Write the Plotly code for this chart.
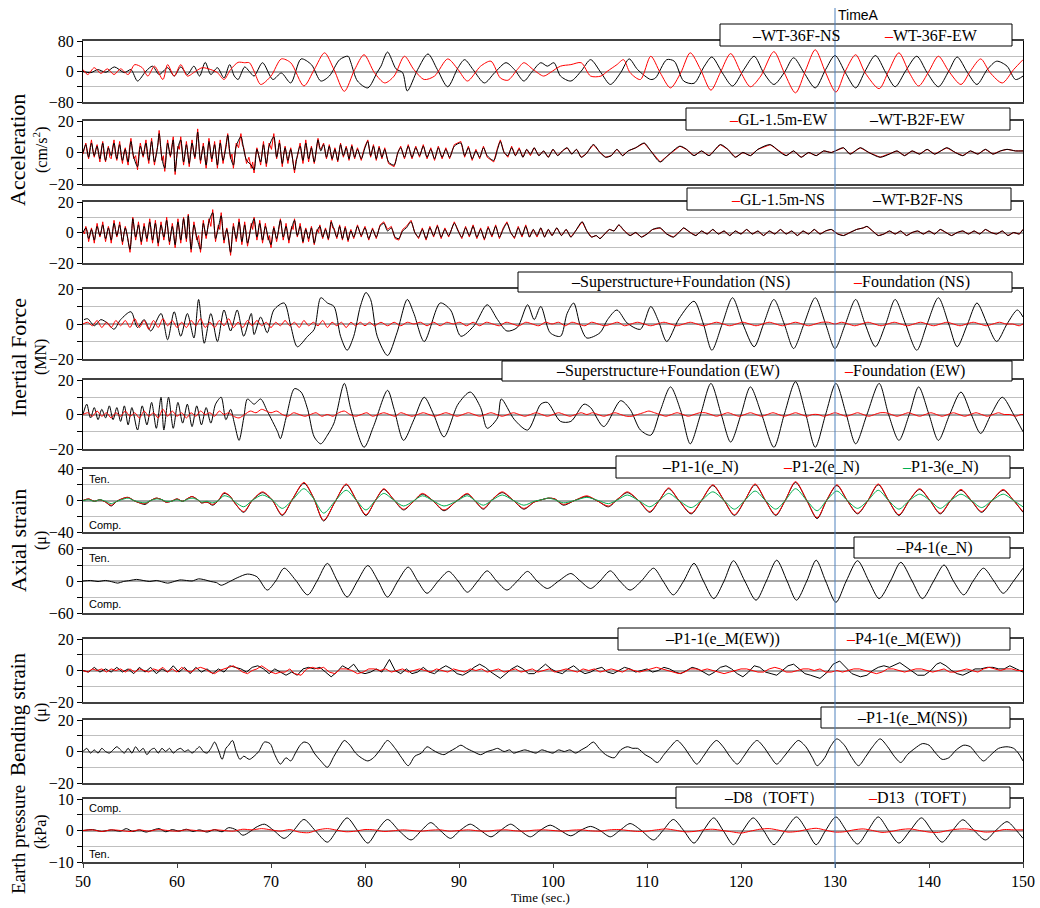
import plotly.graph_objects as go

# ---------------- data: (time [s], value) pairs ----------------
TIME_A = 130.0
X_TICKS = [50, 60, 70, 80, 90, 100, 110, 120, 130, 140, 150]

WT36F_NS = [(50.0,0),(50.85,-3),(51.56,5),(52.45,-2),(53.33,12),(54.4,-3),(55.1,5),(55.8,-25),(56.7,1),(57.4,14),(58.1,-8),(59.0,10),(59.7,-12),(60.4,12),(61.1,-8),(61.8,14),(62.4,-12),(63.0,24),(63.6,-8),(64.3,10),(65.0,-17),(65.6,18),(66.1,-12),(66.5,-21),(67.2,12),(67.7,0),(68.2,-12),(69.1,23),(70.2,-21),(71.1,-4),(72.1,-30),(73.2,33),(74.3,18),(75.3,-25),(76.2,-12),(77.3,31),(78.2,40),(78.5,23),(79.2,-25),(80.3,-43),(81.3,-2),(81.7,14),(82.4,51),(83.3,7),(84.0,-3),(84.5,-51),(85.6,5),(86.7,46),(87.7,5),(88.8,-40),(89.9,10),(90.6,31),(91.5,5),(92.7,-30),(93.8,-3),(95.0,23),(95.9,5),(96.9,-25),(97.7,-3),(98.7,23),(99.4,14),(100.1,23),(100.8,-12),(101.9,-25),(103.0,1),(104.0,31),(105.1,-3),(106.1,-34),(107.2,-3),(108.1,33),(109.0,5),(110.4,-21),(110.9,-17),(112.1,31),(112.9,27),(113.9,-25),(115.0,-31),(116.1,14),(116.9,38),(118.0,-3),(119.1,-38),(120.3,5),(121.4,40),(122.4,-3),(123.5,-34),(124.6,-3),(125.6,36),(126.7,-3),(127.9,-43),(129.0,5),(130.0,42),(131.1,-3),(132.2,-43),(133.2,1),(134.3,42),(135.4,-3),(136.4,-40),(137.5,1),(138.7,40),(139.8,-3),(141.0,-40),(142.1,1),(143.0,38),(144.1,-3),(145.1,-34),(146.2,5),(147.2,27),(148.3,14),(149.2,-21),(150.0,-12)]

WT36F_EW = [(50.0,5),(50.5,-8),(51.2,10),(51.9,-5),(52.6,7),(53.3,-8),(54.0,7),(54.8,-8),(55.5,18),(56.3,10),(56.9,-12),(57.6,14),(58.5,-21),(59.0,18),(59.7,-12),(60.4,18),(61.1,-12),(62.0,1),(62.7,10),(63.6,5),(64.3,-3),(65.0,-21),(65.7,5),(66.5,24),(67.2,23),(67.7,23),(68.2,1),(68.9,-34),(70.0,-12),(71.1,33),(72.1,23),(73.5,-38),(74.6,5),(75.7,49),(76.7,5),(77.8,-52),(78.9,5),(79.9,44),(81.0,-3),(82.1,-30),(83.1,-12),(84.2,40),(85.2,5),(86.3,-21),(87.4,-12),(88.8,33),(89.9,5),(90.9,-25),(92.3,14),(93.4,27),(94.4,-17),(95.2,-23),(96.2,5),(96.9,23),(97.9,5),(99.0,-12),(99.7,-3),(100.8,14),(101.9,18),(103.0,23),(104.0,-12),(105.1,-12),(105.8,1),(106.8,18),(107.5,31),(108.2,-3),(109.3,-21),(110.4,40),(111.4,-3),(112.5,-43),(113.6,-3),(114.6,49),(115.7,5),(116.8,-49),(117.8,-3),(118.9,47),(120.0,-3),(121.0,-40),(122.1,-12),(123.5,52),(124.6,-3),(125.8,-56),(126.9,5),(127.9,57),(129.0,-3),(130.1,-54),(131.1,1),(132.2,44),(133.2,-3),(134.7,-45),(135.7,1),(136.8,49),(137.9,-3),(138.9,-38),(140.0,1),(141.0,40),(142.1,1),(143.4,-34),(144.4,1),(145.5,33),(146.5,-3),(147.8,-30),(149.0,5),(150.0,31)]

B2F_EW = [(50.0,0),(50.3,5),(50.6,-3),(50.9,6),(51.2,-2),(51.5,4),(51.8,-4),(52.1,6),(52.4,-5),(52.7,3),(53.0,-2),(53.3,6),(53.6,-4),(53.9,5),(54.2,-5),(54.5,2),(54.8,-6),(55.1,7),(55.4,-3),(55.8,-9),(56.1,4),(56.4,-2),(56.7,6),(57.0,-5),(57.3,7),(57.6,-6),(57.9,2),(58.1,12),(58.4,-4),(58.7,-10),(59.0,6),(59.3,-2),(59.6,8),(59.8,-12),(60.1,3),(60.4,8),(60.7,-6),(61.0,5),(61.3,-7),(61.6,6),(61.9,-3),(62.2,13),(62.5,-5),(62.8,4),(63.1,-8),(63.4,7),(63.7,-4),(64.0,5),(64.3,-8),(64.6,6),(64.9,-5),(65.2,3),(65.4,11),(65.7,-3),(66.0,-8),(66.3,4),(66.8,10),(67.1,2),(67.4,-5),(67.9,-8),(68.2,-11),(68.5,2),(68.9,-6),(69.2,5),(69.5,-7),(69.8,4),(70.3,10),(70.6,-3),(70.9,6),(71.2,-7),(71.5,3),(71.8,-5),(72.1,2),(72.5,-11),(72.8,-2),(73.1,4),(73.4,-5),(73.7,6),(74.0,-4),(74.3,3),(74.6,-6),(75.0,8),(75.3,1),(75.6,5),(75.9,-3),(76.2,4),(76.5,-4),(76.8,2),(77.1,-5),(77.4,5),(77.7,-2),(78.0,3),(78.3,-4),(78.6,4),(78.9,-3),(79.2,2),(79.6,-4),(80.0,3),(80.3,7),(80.6,-2),(80.9,4),(81.2,-4),(81.5,3),(81.8,-3),(82.1,2),(82.5,-6),(83.1,-8),(83.5,0),(83.8,3),(84.2,-3),(84.6,4),(85.0,-3),(85.4,3),(85.8,-2),(86.2,4),(86.6,-3),(87.0,2),(87.4,-4),(87.8,3),(88.2,-3),(88.6,2),(89.0,-3),(89.5,4),(90.2,6),(90.6,-2),(91.0,3),(91.4,-4),(91.8,1),(92.2,-3),(92.6,3),(93.0,-2),(93.7,-5),(94.1,2),(94.4,7),(94.8,0),(95.2,-2),(95.6,3),(96.0,-2),(96.4,2),(96.8,-3),(97.2,2),(97.6,-1),(98.0,3),(98.5,-2),(99.0,1),(99.5,-3),(100.0,2),(100.5,-2),(101.0,1),(101.5,3),(102.0,-1),(102.5,2),(103.0,-3),(103.5,-1),(104.3,5),(105.0,0),(105.6,-3),(106.2,-2),(106.8,2),(107.4,-2),(108.0,1),(108.8,3),(109.7,6),(110.4,1),(111.4,-6),(112.2,-2),(113.5,4),(114.2,2),(115.0,-2),(115.8,1),(116.6,-2),(117.8,5),(118.6,2),(119.4,-3),(120.2,0),(121.0,-2),(121.8,2),(123.1,5),(124.0,1),(124.8,-2),(125.6,1),(126.4,-3),(127.2,0),(128.0,-2),(128.8,1),(129.6,0),(130.9,3),(131.6,-1),(132.7,3),(133.6,0),(134.8,-3),(135.8,-1),(136.6,1),(137.4,-2),(138.2,1),(139.0,-1),(139.8,2),(140.6,-1),(141.9,3),(142.8,0),(143.6,-2),(144.4,1),(145.2,-1),(146.0,2),(146.8,-1),(147.6,1),(148.3,2),(149.2,1),(150.0,1)]

GL_EW = [(50.0,-1),(50.15,3),(50.3,6),(50.45,0),(50.6,-4),(50.75,3),(50.9,8),(51.05,1),(51.2,-3),(51.35,2),(51.5,5),(51.65,-1),(51.8,-6),(51.95,2),(52.1,7),(52.25,-2),(52.4,-6),(52.55,0),(52.7,4),(52.85,-3),(53.0,-4),(53.15,3),(53.3,8),(53.45,-1),(53.6,-5),(53.75,2),(53.9,7),(54.05,-2),(54.2,-7),(54.35,0),(54.5,3),(54.65,-4),(54.8,-8),(54.95,3),(55.1,9),(55.25,1),(55.4,-4),(55.6,-2),(55.8,-11),(55.95,0),(56.1,6),(56.25,1),(56.4,-3),(56.55,3),(56.7,8),(56.85,-2),(57.0,-7),(57.15,2),(57.3,9),(57.45,0),(57.6,-8),(57.75,-2),(57.9,3),(58.0,6),(58.1,14),(58.25,3),(58.4,-5),(58.55,-2),(58.7,-12),(58.85,0),(59.0,8),(59.15,2),(59.3,-3),(59.45,4),(59.6,10),(59.7,0),(59.8,-14),(59.95,-4),(60.1,4),(60.25,2),(60.4,10),(60.55,0),(60.7,-8),(60.85,-1),(61.0,7),(61.15,0),(61.3,-9),(61.45,0),(61.6,8),(61.75,1),(61.9,-4),(62.05,4),(62.2,15),(62.35,3),(62.5,-7),(62.65,0),(62.8,6),(62.95,-2),(63.1,-10),(63.25,0),(63.4,9),(63.55,1),(63.7,-6),(63.85,0),(64.0,7),(64.15,-1),(64.3,-10),(64.45,0),(64.6,8),(64.75,0),(64.9,-7),(65.05,-1),(65.2,4),(65.3,7),(65.4,12),(65.55,2),(65.7,-4),(65.85,-1),(66.0,-10),(66.15,-2),(66.3,6),(66.55,3),(66.8,12),(66.95,5),(67.1,3),(67.25,-2),(67.4,-7),(67.65,-3),(67.9,-10),(68.05,-6),(68.2,-13),(68.35,-3),(68.5,3),(68.7,-2),(68.9,-8),(69.05,0),(69.2,7),(69.35,-1),(69.5,-9),(69.65,-2),(69.8,6),(70.05,2),(70.3,12),(70.45,3),(70.6,-4),(70.75,1),(70.9,8),(71.05,-1),(71.2,-9),(71.35,-1),(71.5,4),(71.65,-2),(71.8,-7),(71.95,-1),(72.1,3),(72.3,-4),(72.5,-13),(72.65,-5),(72.8,-3),(72.95,2),(73.1,6),(73.25,-1),(73.4,-7),(73.55,0),(73.7,8),(73.85,1),(74.0,-6),(74.15,-1),(74.3,4),(74.45,-2),(74.6,-7),(74.8,0),(75.0,9),(75.15,3),(75.3,2),(75.45,4),(75.6,6),(75.75,1),(75.9,-4),(76.05,0),(76.2,5),(76.35,0),(76.5,-5),(76.65,-1),(76.8,3),(76.95,-1),(77.1,-6),(77.25,0),(77.4,6),(77.55,1),(77.7,-3),(77.85,0),(78.0,4),(78.15,0),(78.3,-5),(78.45,0),(78.6,5),(78.75,0),(78.9,-4),(79.05,0),(79.2,3),(79.4,-1),(79.6,-5),(79.8,0),(80.0,4),(80.3,8),(80.6,-3),(80.9,5),(81.2,-5),(81.5,4),(81.8,-4),(82.1,3),(82.5,-7),(83.1,-9),(83.5,0),(83.8,4),(84.2,-4),(84.6,5),(85.0,-4),(85.4,4),(85.8,-3),(86.2,5),(86.6,-4),(87.0,3),(87.4,-5),(87.8,4),(88.2,-4),(88.6,3),(89.0,-4),(89.5,5),(90.2,7),(90.6,-3),(91.0,4),(91.4,-5),(91.8,2),(92.2,-4),(92.6,4),(93.0,-3),(93.7,-6),(94.1,3),(94.4,8),(94.8,0),(95.2,-3),(95.6,4),(96.0,-2),(96.4,3),(96.8,-3),(97.2,2),(97.6,-2),(98.0,3),(98.5,-2),(99.0,1),(99.5,-3),(100.0,2),(100.5,-2),(101.0,1),(101.5,3),(102.0,-1),(102.5,2),(103.0,-3),(103.5,-1),(104.3,5),(105.0,0),(105.6,-3),(106.2,-2),(106.8,2),(107.4,-2),(108.0,1),(108.8,3),(109.7,6),(110.4,1),(111.4,-6),(112.2,-2),(113.5,4),(114.2,2),(115.0,-2),(115.8,1),(116.6,-2),(117.8,5),(118.6,2),(119.4,-3),(120.2,0),(121.0,-2),(121.8,2),(123.1,5),(124.0,1),(124.8,-2),(125.6,1),(126.4,-3),(127.2,0),(128.0,-2),(128.8,1),(129.6,0),(130.9,3),(131.6,-1),(132.7,3),(133.6,0),(134.8,-3),(135.8,-1),(136.6,1),(137.4,-2),(138.2,1),(139.0,-1),(139.8,2),(140.6,-1),(141.9,3),(142.8,0),(143.6,-2),(144.4,1),(145.2,-1),(146.0,2),(146.8,-1),(147.6,1),(148.3,2),(149.2,1),(150.0,1)]

B2F_NS = [(50.0,0),(50.3,3),(50.6,-4),(50.9,2),(51.2,-5),(51.5,4),(51.8,-2),(52.1,5),(52.4,-4),(52.7,3),(53.0,-5),(53.3,6),(53.6,-2),(53.9,5),(54.2,-6),(54.5,3),(55.0,-11),(55.3,9),(55.6,-3),(55.9,5),(56.2,-6),(56.5,4),(56.8,-4),(57.1,7),(57.4,-5),(57.7,6),(58.0,-7),(58.3,5),(58.6,-3),(58.9,8),(59.2,-6),(59.5,4),(59.8,-8),(60.1,7),(60.4,-5),(60.7,9),(61.0,-4),(61.2,11),(61.5,-11),(61.8,5),(62.1,-3),(62.5,-11),(62.8,6),(63.1,-2),(63.4,7),(63.8,13),(64.1,-4),(64.4,3),(64.7,11),(65.0,-5),(65.3,2),(65.7,-13),(66.0,4),(66.3,-4),(66.6,7),(66.9,-6),(67.2,5),(67.5,-7),(67.9,4),(68.2,9),(68.5,-3),(68.8,6),(69.1,-5),(69.4,4),(69.7,-3),(70.0,-8),(70.3,3),(70.6,-4),(71.0,8),(71.3,-3),(71.6,4),(71.9,-5),(72.2,3),(72.5,8),(72.8,-2),(73.1,4),(73.4,-6),(73.7,2),(74.0,-4),(74.3,3),(74.6,-7),(74.9,1),(75.2,4),(75.5,-3),(75.8,2),(76.1,-4),(76.4,7),(76.7,2),(77.0,-3),(77.3,4),(77.6,-4),(77.9,3),(78.2,-5),(78.5,1),(78.8,-3),(79.2,4),(79.6,-2),(80.0,3),(80.4,-4),(80.8,2),(81.2,-3),(81.6,4),(82.0,6),(82.4,1),(82.8,3),(83.2,-3),(83.6,-4),(84.0,1),(84.4,3),(84.9,7),(85.3,0),(85.7,-3),(86.1,2),(86.5,-4),(86.9,3),(87.3,-2),(87.7,4),(88.1,-3),(88.5,2),(88.9,-2),(89.5,6),(89.9,1),(90.3,-3),(90.7,3),(91.1,-2),(91.5,4),(91.9,-3),(92.3,2),(92.7,-4),(93.1,3),(93.5,-2),(93.9,4),(94.3,-3),(94.7,2),(95.1,6),(95.5,0),(95.9,-3),(96.3,3),(96.7,-2),(97.1,4),(97.5,-3),(97.9,2),(98.3,-2),(98.7,3),(99.1,-3),(99.5,2),(99.9,-2),(100.4,3),(100.9,-2),(101.4,2),(101.9,-3),(102.4,1),(103.1,7),(103.6,1),(104.1,-3),(104.6,-2),(105.0,-4),(105.5,-1),(106.0,2),(106.5,1),(107.0,5),(107.6,1),(108.2,-2),(108.8,0),(109.4,-3),(110.0,-1),(110.6,2),(111.4,3),(112.1,-1),(112.8,-3),(113.4,0),(113.9,3),(114.6,0),(115.2,-2),(115.8,1),(116.4,-1),(117.0,2),(117.6,-1),(118.2,1),(118.8,-2),(119.4,1),(120.0,-1),(120.6,2),(121.2,-1),(121.8,1),(122.4,-2),(123.0,1),(123.6,-1),(124.2,2),(124.8,-1),(125.4,1),(126.0,-2),(126.6,1),(127.2,-1),(127.8,2),(128.4,-1),(129.0,1),(129.6,2),(130.3,-1),(130.9,-2),(131.6,0),(132.3,2),(133.0,3),(133.4,4),(134.0,1),(134.6,-2),(135.2,-1),(135.8,1),(136.4,-1),(137.0,1),(137.6,-2),(138.2,0),(138.8,1),(139.4,-1),(140.0,1),(140.6,-1),(141.2,2),(141.8,0),(142.4,-2),(143.0,0),(143.6,1),(144.2,-1),(144.8,1),(145.4,-1),(146.0,2),(146.6,0),(147.2,-1),(147.8,1),(148.4,-2),(149.0,0),(149.6,-1),(150.0,2)]

GL_NS = [(50.0,1),(50.15,-1),(50.3,4),(50.45,1),(50.6,-6),(50.75,-1),(50.9,3),(51.05,-1),(51.2,-7),(51.35,0),(51.5,6),(51.65,1),(51.8,-3),(51.95,1),(52.1,7),(52.25,0),(52.4,-6),(52.55,-1),(52.7,4),(52.85,0),(53.0,-7),(53.15,0),(53.3,8),(53.45,2),(53.6,-3),(53.75,1),(53.9,7),(54.05,0),(54.2,-8),(54.35,-1),(54.5,4),(54.75,-3),(55.0,-13),(55.15,-2),(55.3,10),(55.45,2),(55.6,-5),(55.75,0),(55.9,7),(56.05,0),(56.2,-8),(56.35,-1),(56.5,6),(56.65,0),(56.8,-6),(56.95,1),(57.1,9),(57.25,1),(57.4,-7),(57.55,0),(57.7,8),(57.85,0),(58.0,-9),(58.15,-1),(58.3,7),(58.45,1),(58.6,-5),(58.75,1),(58.9,10),(59.05,1),(59.2,-8),(59.35,-1),(59.5,6),(59.65,0),(59.8,-10),(59.95,-1),(60.1,9),(60.25,1),(60.4,-7),(60.55,1),(60.7,10),(60.85,2),(61.0,-6),(61.1,2),(61.2,12),(61.35,0),(61.5,-13),(61.65,-3),(61.8,7),(61.95,1),(62.1,-5),(62.3,-2),(62.5,-13),(62.65,-2),(62.8,8),(62.95,1),(63.1,-4),(63.25,2),(63.4,9),(63.6,4),(63.8,15),(63.95,4),(64.1,-6),(64.25,0),(64.4,5),(64.55,2),(64.7,13),(64.85,3),(65.0,-7),(65.15,-1),(65.3,3),(65.5,-4),(65.7,-15),(65.85,-4),(66.0,6),(66.15,0),(66.3,-6),(66.45,0),(66.6,9),(66.75,1),(66.9,-8),(67.05,-1),(67.2,7),(67.35,0),(67.5,-9),(67.7,-2),(67.9,6),(68.05,2),(68.2,10),(68.35,2),(68.5,-5),(68.65,0),(68.8,8),(68.95,1),(69.1,-7),(69.25,-1),(69.4,6),(69.55,0),(69.7,-5),(69.85,-2),(70.0,-10),(70.15,-2),(70.3,4),(70.45,-1),(70.6,-6),(70.8,1),(71.0,9),(71.15,2),(71.3,-5),(71.45,0),(71.6,6),(71.75,0),(71.9,-7),(72.05,-1),(72.2,4),(72.35,2),(72.5,9),(72.65,2),(72.8,-3),(72.95,1),(73.1,6),(73.25,0),(73.4,-7),(73.55,-1),(73.7,3),(73.85,-1),(74.0,-6),(74.15,-1),(74.3,4),(74.45,-1),(74.6,-8),(74.75,-2),(74.9,2),(75.05,0),(75.2,5),(75.35,0),(75.5,-4),(75.65,0),(75.8,3),(75.95,-1),(76.1,-5),(76.25,0),(76.4,8),(76.55,3),(76.7,3),(76.85,0),(77.0,-4),(77.15,0),(77.3,5),(77.45,0),(77.6,-5),(77.75,0),(77.9,4),(78.05,-1),(78.2,-6),(78.35,-1),(78.5,2),(78.65,-1),(78.8,-4),(79.0,0),(79.2,5),(79.4,1),(79.6,-3),(79.8,1),(80.0,4),(80.4,-5),(80.8,3),(81.2,-4),(81.6,5),(82.0,7),(82.4,2),(82.8,4),(83.2,-4),(83.6,-5),(84.0,2),(84.4,4),(84.9,8),(85.3,0),(85.7,-4),(86.1,3),(86.5,-5),(86.9,4),(87.3,-3),(87.7,5),(88.1,-4),(88.5,3),(88.9,-3),(89.5,7),(89.9,1),(90.3,-4),(90.7,4),(91.1,-3),(91.5,5),(91.9,-4),(92.3,3),(92.7,-5),(93.1,4),(93.5,-3),(93.9,5),(94.3,-4),(94.7,3),(95.1,7),(95.5,0),(95.9,-4),(96.3,4),(96.7,-3),(97.1,5),(97.5,-3),(97.9,2),(98.3,-3),(98.7,3),(99.1,-3),(99.5,2),(99.9,-2),(100.4,3),(100.9,-2),(101.4,2),(101.9,-3),(102.4,1),(103.1,7),(103.6,1),(104.1,-3),(104.6,-2),(105.0,-4),(105.5,-1),(106.0,2),(106.5,1),(107.0,5),(107.6,1),(108.2,-2),(108.8,0),(109.4,-3),(110.0,-1),(110.6,2),(111.4,3),(112.1,-1),(112.8,-3),(113.4,0),(113.9,3),(114.6,0),(115.2,-2),(115.8,1),(116.4,-1),(117.0,2),(117.6,-1),(118.2,1),(118.8,-2),(119.4,1),(120.0,-1),(120.6,2),(121.2,-1),(121.8,1),(122.4,-2),(123.0,1),(123.6,-1),(124.2,2),(124.8,-1),(125.4,1),(126.0,-2),(126.6,1),(127.2,-1),(127.8,2),(128.4,-1),(129.0,1),(129.6,2),(130.3,-1),(130.9,-2),(131.6,0),(132.3,2),(133.0,3),(133.4,4),(134.0,1),(134.6,-2),(135.2,-1),(135.8,1),(136.4,-1),(137.0,1),(137.6,-2),(138.2,0),(138.8,1),(139.4,-1),(140.0,1),(140.6,-1),(141.2,2),(141.8,0),(142.4,-2),(143.0,0),(143.6,1),(144.2,-1),(144.8,1),(145.4,-1),(146.0,2),(146.6,0),(147.2,-1),(147.8,1),(148.4,-2),(149.0,0),(149.6,-1),(150.0,2)]

SF_NS = [(50.1,2.5),(50.5,3),(51.2,-1),(51.9,2.5),(52.6,0.5),(53.3,-3),(54.0,2.5),(55.1,7),(55.8,-2),(56.5,2.5),(57.2,-4),(58.3,6),(59.0,-9),(59.7,7),(60.4,-7),(61.1,6),(61.8,-8),(62.3,14),(62.9,-11),(63.6,6),(64.3,-10),(65.0,8),(65.7,-4),(66.4,8),(67.1,-7),(67.9,6),(68.2,-6),(68.9,4),(69.6,-5),(70.3,8),(71.4,12),(72.1,-1),(72.8,-13),(73.9,-7),(74.6,-3),(75.3,15),(76.0,12),(76.7,10),(77.4,-7),(78.1,-15),(78.8,-7),(79.5,10),(80.1,18),(80.6,14),(81.3,-7),(82.4,-18),(83.4,-5),(84.5,14),(85.2,6),(86.3,-10),(88.0,12),(89.1,8),(90.2,-7),(91.6,-1),(93.0,11),(94.1,2.5),(95.1,-4),(96.2,-2),(97.3,11),(98.0,2.5),(98.7,10),(99.7,-5),(100.8,-7),(101.5,6),(102.2,12),(102.9,-1),(103.6,-8),(105.0,-5),(105.8,2.5),(106.8,8),(107.9,0.5),(109.3,-3),(110.4,10),(111.2,2),(112.1,-10),(113.4,3),(115.0,13),(116.0,0),(116.9,-15),(118.0,0),(119.1,15),(120.2,0),(121.4,-13),(122.4,0),(123.5,14),(124.6,0),(125.6,-14),(126.7,0),(127.9,15),(129.0,0),(130.0,-14),(131.1,0),(132.2,14),(133.2,0),(134.3,-13),(135.4,0),(136.4,14),(137.5,0),(138.7,-15),(139.8,0),(141.0,15),(142.1,0),(143.0,-13),(144.1,0),(145.1,12),(146.2,0),(147.2,-10),(148.3,0),(149.4,8),(150.0,4)]

F_NS = [(50.0,0),(50.5,1),(51.0,-1),(51.5,2),(52.0,-2),(52.5,1),(53.0,-2),(53.5,2),(54.0,-1),(54.5,2),(55.0,-2),(55.5,3),(56.0,-2),(56.5,2),(57.0,-3),(57.5,2),(58.0,-2),(58.5,3),(59.0,-1),(59.5,2),(60.0,-2),(60.5,1),(61.0,-2),(61.5,2),(62.0,-1),(62.5,3),(63.0,-2),(63.5,1),(64.0,-2),(64.5,2),(65.0,-1),(65.5,3),(66.0,-2),(66.5,1),(67.0,-2),(67.5,2),(68.0,-1),(68.5,2),(69.0,-1),(69.5,1),(70.0,-2),(70.5,1),(71.0,-1),(71.5,2),(72.0,-1),(72.5,1),(73.0,-2),(73.5,2),(74.0,-1),(74.5,1),(75.0,-1),(75.5,2),(76.0,-2),(76.5,1),(77.0,-1),(77.5,1),(78.0,-2),(78.5,1),(79.0,-1),(79.5,1),(80.0,-1),(80.5,1),(81.0,-1),(81.7,1),(82.4,-1),(83.1,1),(83.8,-1),(84.5,1),(85.2,0),(85.9,1),(86.6,-1),(87.3,1),(88.0,-1),(88.7,1),(89.4,0),(90.1,1),(90.8,-1),(91.5,1),(92.2,-1),(92.9,1),(93.6,0),(94.3,-1),(95.0,1),(95.7,0),(96.4,-1),(97.1,1),(97.8,0),(98.5,-1),(99.2,1),(99.9,0),(100.6,1),(101.3,-1),(102.0,1),(102.7,0),(103.4,-1),(104.1,1),(104.8,0),(105.5,-1),(106.2,0),(106.9,1),(107.6,-1),(108.3,0),(109.0,1),(109.7,0),(110.4,-1),(111.1,0),(111.8,1),(112.5,0),(113.2,-1),(113.9,0),(114.6,1),(115.3,0),(116.0,-1),(116.7,0),(117.4,1),(118.1,0),(118.8,-1),(119.5,0),(120.2,1),(120.9,0),(121.6,-1),(122.3,0),(123.0,1),(123.7,0),(124.4,-1),(125.1,0),(125.8,1),(126.5,0),(127.2,-1),(127.9,0),(128.6,1),(129.3,1),(130.0,0),(130.7,1),(131.4,0),(132.1,-1),(132.8,0),(133.5,1),(134.2,0),(134.9,-1),(135.6,0),(136.3,1),(137.0,0),(137.7,-1),(138.4,0),(139.1,1),(139.8,0),(140.5,-1),(141.2,0),(141.9,1),(142.6,0),(143.3,-1),(144.0,0),(144.7,1),(145.4,0),(146.1,-1),(146.8,0),(147.5,1),(148.2,0),(148.9,0),(149.6,-1),(150.0,0)]

SF_EW = [(50.0,0),(50.4,6),(50.8,-2),(51.2,4),(51.6,-3),(52.0,3),(52.4,-2),(52.8,5),(53.2,-3),(53.6,4),(54.0,-4),(54.4,5),(54.8,-6),(55.2,4),(55.8,-9),(56.3,5),(56.8,-6),(57.3,7),(57.8,-8),(58.3,10),(58.6,-9),(59.1,10),(59.6,-8),(60.1,7),(60.6,-5),(61.1,6),(61.6,-7),(62.1,5),(62.6,-6),(63.1,4),(63.6,-5),(64.1,6),(64.7,10),(65.2,-3),(65.7,3),(66.1,-5),(66.6,-15),(67.1,-2),(67.5,9),(68.2,6),(68.9,9),(69.6,2),(70.7,-10),(71.0,-14),(71.6,-2),(72.5,15),(73.2,13),(73.9,3),(74.6,-13),(75.3,-17),(76.0,-12),(76.7,-5),(77.8,18),(78.5,3),(79.9,-19),(80.9,-7),(82.4,14),(83.1,3),(84.1,-15),(85.2,-3),(86.3,10),(87.3,0),(88.4,-13),(89.9,6),(91.2,13),(92.3,4),(93.0,-8),(94.1,-2),(94.5,9),(95.9,-3),(97.3,-9),(98.7,6),(99.4,7),(100.8,-4),(101.9,-4),(103.3,6),(104.0,4),(105.4,-7),(107.2,8),(108.2,3),(109.3,-9),(110.4,-12),(111.4,2),(112.5,16),(113.6,2),(114.6,-17),(115.7,0),(116.8,18),(117.9,0),(118.9,-16),(120.0,0),(121.0,16),(122.2,0),(123.5,-19),(124.6,0),(125.8,19),(126.9,0),(127.9,-19),(129.0,0),(130.1,18),(131.2,0),(132.2,-17),(133.4,0),(134.7,18),(135.7,0),(136.8,-15),(137.9,0),(138.9,16),(140.0,0),(141.0,-15),(142.2,0),(143.4,13),(144.5,0),(145.5,-11),(146.6,0),(147.8,10),(149.0,0),(150.0,-10)]

F_EW = [(50.0,0),(50.5,1),(51.0,-1),(51.5,2),(52.0,-1),(52.5,1),(53.0,-2),(53.5,1),(54.0,-1),(54.5,2),(55.0,-1),(55.5,1),(56.0,-2),(56.5,2),(57.0,-1),(57.5,1),(58.0,-2),(58.5,3),(59.0,-1),(59.5,2),(60.0,-1),(60.5,1),(61.0,-2),(61.5,1),(62.0,-1),(62.5,2),(63.0,0),(63.5,1),(64.0,-1),(64.5,2),(65.0,0),(65.5,1),(66.0,-1),(66.6,-2),(67.2,0),(67.8,2),(68.4,1),(69.0,3),(69.5,2),(70.0,1),(70.6,2),(71.2,0),(71.8,-1),(72.4,1),(73.0,0),(73.6,-1),(74.2,0),(74.8,1),(75.4,-1),(76.0,0),(76.6,-1),(77.2,1),(77.8,2),(78.4,0),(79.0,-1),(79.6,0),(80.2,1),(80.8,-1),(81.4,0),(82.0,1),(82.6,0),(83.2,-1),(83.8,1),(84.4,0),(85.0,-1),(85.6,0),(86.2,1),(86.8,0),(87.4,-1),(88.0,0),(88.6,1),(89.2,0),(89.8,-1),(90.4,0),(91.0,1),(91.6,0),(92.2,-1),(92.8,0),(93.4,1),(94.0,0),(94.6,-1),(95.2,0),(95.8,1),(96.4,0),(97.0,-1),(97.6,0),(98.2,1),(98.8,0),(99.4,-1),(100.0,0),(100.6,1),(101.2,0),(101.8,-1),(102.4,0),(103.0,1),(103.6,0),(104.2,1),(104.8,0),(105.4,-1),(106.0,0),(106.6,1),(107.2,0),(107.8,-1),(108.4,-1),(109.0,0),(109.6,1),(110.2,2),(110.8,1),(111.4,0),(112.0,-1),(112.6,0),(113.2,1),(113.8,0),(114.4,-1),(115.0,0),(115.6,1),(116.2,1),(116.8,0),(117.4,-1),(118.0,0),(118.6,1),(119.2,0),(119.8,-1),(120.4,0),(121.0,1),(121.6,0),(122.2,-1),(122.8,0),(123.4,1),(124.0,0),(124.6,-1),(125.2,0),(125.8,1),(126.4,0),(127.0,-1),(127.6,0),(128.2,0),(128.8,-1),(129.4,0),(130.0,1),(130.6,0),(131.2,-1),(131.8,0),(132.4,1),(133.0,0),(133.6,-1),(134.2,0),(134.8,1),(135.4,1),(136.0,0),(136.6,-1),(137.2,0),(137.8,1),(138.4,0),(139.0,-1),(139.6,0),(140.2,1),(140.8,0),(141.4,-1),(142.0,0),(142.6,1),(143.2,0),(143.8,-1),(144.4,0),(145.0,1),(145.6,0),(146.2,-1),(146.8,0),(147.4,1),(148.0,0),(148.6,0),(149.2,-1),(149.8,0),(150.0,0)]

P1_1_N = [(50.0,0),(50.6,2),(51.2,-1),(51.8,1),(52.4,-2),(53.0,-7),(53.6,-1),(54.1,2),(54.8,4),(55.4,0),(56.0,-3),(56.6,-5),(57.2,0),(57.8,3),(58.4,1),(58.8,-2),(59.4,-1),(60.0,2),(60.6,-1),(61.2,3),(61.6,5),(62.2,1),(62.6,-3),(63.2,-2),(63.8,-6),(64.4,0),(65.0,9),(65.6,6),(66.2,-4),(67.1,-15),(68.0,0),(69.1,10),(70.1,1),(71.2,-19),(72.3,2),(73.5,22),(74.5,4),(75.6,-26),(76.8,-2),(78.0,20),(79.1,0),(80.1,-19),(81.1,0),(82.0,14),(83.0,2),(84.1,-12),(85.1,-2),(86.1,8),(87.2,0),(88.4,-13),(89.7,-1),(90.9,8),(91.8,-2),(92.6,-11),(93.6,2),(94.6,10),(95.8,0),(96.9,-11),(98.0,-2),(98.8,1),(99.5,3),(100.2,2),(101.1,-6),(102.3,0),(103.6,5),(104.8,-1),(105.9,-8),(106.9,2),(107.9,10),(109.1,0),(110.3,-15),(111.3,0),(112.3,15),(113.4,0),(114.7,-17),(115.8,0),(117.0,19),(118.2,0),(119.3,-19),(120.4,0),(121.5,20),(122.6,0),(123.7,-19),(124.7,0),(125.8,23),(127.0,0),(128.1,-23),(129.1,0),(130.2,19),(131.3,0),(132.4,-17),(133.5,0),(134.6,20),(135.7,0),(136.8,-19),(137.9,0),(139.0,14),(140.1,0),(141.2,-17),(142.3,0),(143.4,13),(144.5,0),(145.6,-15),(146.7,0),(147.9,13),(149.0,0),(150.0,-15)]

P1_2_N = [(50.0,0),(50.6,2),(51.2,-1),(51.8,1),(52.4,-2),(53.0,-6),(53.6,-1),(54.1,2),(54.8,4),(55.4,0),(56.0,-3),(56.6,-4),(57.2,0),(57.8,3),(58.4,1),(58.8,-2),(59.4,-1),(60.0,2),(60.6,-1),(61.2,3),(61.6,5),(62.2,1),(62.6,-3),(63.2,-2),(63.8,-5),(64.4,0),(65.0,10),(65.6,6),(66.2,-4),(67.1,-14),(68.0,0),(69.1,11),(70.1,1),(71.2,-18),(72.3,2),(73.5,23),(74.5,4),(75.6,-25),(76.8,-2),(78.0,21),(79.1,0),(80.1,-18),(81.1,0),(82.0,15),(83.0,2),(84.1,-11),(85.1,-2),(86.1,9),(87.2,0),(88.4,-12),(89.7,-1),(90.9,9),(91.8,-2),(92.6,-10),(93.6,2),(94.6,11),(95.8,0),(96.9,-10),(98.0,-2),(98.8,1),(99.5,3),(100.2,2),(101.1,-5),(102.3,0),(103.6,6),(104.8,-1),(105.9,-7),(106.9,2),(107.9,11),(109.1,0),(110.3,-14),(111.3,0),(112.3,16),(113.4,0),(114.7,-16),(115.8,0),(117.0,20),(118.2,0),(119.3,-18),(120.4,0),(121.5,21),(122.6,0),(123.7,-18),(124.7,0),(125.8,24),(127.0,0),(128.1,-22),(129.1,0),(130.2,20),(131.3,0),(132.4,-16),(133.5,0),(134.6,21),(135.7,0),(136.8,-18),(137.9,0),(139.0,15),(140.1,0),(141.2,-16),(142.3,0),(143.4,14),(144.5,0),(145.6,-14),(146.7,0),(147.9,14),(149.0,0),(150.0,-14)]

P1_3_N = [(50.0,0),(50.6,1),(51.2,-1),(51.8,1),(52.4,-1),(53.0,-4),(53.6,-1),(54.1,1),(54.8,3),(55.4,0),(56.0,-2),(56.6,-3),(57.2,0),(57.8,2),(58.4,1),(58.8,-1),(59.4,-1),(60.0,1),(60.6,-1),(61.2,2),(61.6,3),(62.2,1),(62.6,-2),(63.2,-1),(63.8,-3),(64.4,0),(65.0,6),(65.6,4),(66.2,-2),(67.1,-8),(68.0,0),(69.1,7),(70.1,1),(71.2,-10),(72.3,1),(73.5,15),(74.5,3),(75.6,-16),(76.8,-1),(78.0,13),(79.1,0),(80.1,-12),(81.1,0),(82.0,9),(83.0,1),(84.1,-7),(85.1,-1),(86.1,6),(87.2,0),(88.4,-7),(89.7,-1),(90.9,6),(91.8,-1),(92.6,-6),(93.6,1),(94.6,7),(95.8,0),(96.9,-6),(98.0,-1),(98.8,1),(99.5,3),(100.2,1),(101.1,-3),(102.3,0),(103.6,4),(104.8,0),(105.9,-4),(106.9,1),(107.9,7),(109.1,0),(110.3,-8),(111.3,0),(112.3,9),(113.4,0),(114.7,-9),(115.8,0),(117.0,11),(118.2,0),(119.3,-11),(120.4,0),(121.5,12),(122.6,0),(123.7,-11),(124.7,0),(125.8,15),(127.0,0),(128.1,-13),(129.1,0),(130.2,12),(131.3,0),(132.4,-10),(133.5,0),(134.6,13),(135.7,0),(136.8,-11),(137.9,0),(139.0,8),(140.1,0),(141.2,-10),(142.3,0),(143.4,8),(144.5,0),(145.6,-9),(146.7,0),(147.9,8),(149.0,0),(150.0,-8)]

P4_1_N = [(50.0,0),(50.8,1),(51.6,-1),(52.4,1),(53.2,-2),(53.7,-4),(54.3,-1),(55.0,1),(55.7,3),(56.4,1),(57.1,-1),(57.8,1),(58.5,-2),(59.0,-4),(59.7,-1),(60.3,2),(61.0,1),(61.6,0),(62.3,4),(63.0,2),(63.6,-1),(64.2,-3),(64.7,-8),(65.5,-2),(66.4,6),(67.5,13),(68.5,8),(69.6,-17),(70.5,0),(71.4,24),(72.6,2),(73.9,-26),(74.9,0),(76.0,33),(77.0,2),(78.1,-30),(79.2,0),(80.3,29),(81.4,0),(82.4,-30),(83.5,0),(84.6,26),(85.6,0),(86.6,-23),(87.8,0),(88.9,18),(89.9,0),(90.9,-21),(92.0,0),(93.0,19),(94.0,0),(95.1,-17),(96.2,0),(97.3,18),(98.3,0),(99.4,-14),(100.6,0),(101.9,14),(102.9,0),(104.0,-14),(105.0,0),(106.1,19),(107.1,0),(108.2,-17),(109.4,0),(110.7,24),(111.7,0),(112.8,-26),(113.9,0),(115.0,33),(116.0,0),(117.1,-33),(118.2,0),(119.2,38),(120.4,0),(121.6,-36),(122.7,0),(123.8,39),(124.9,0),(125.9,-36),(127.0,0),(128.0,39),(129.0,0),(130.1,-40),(131.2,0),(132.4,38),(133.6,0),(134.7,-33),(135.9,0),(137.0,35),(138.2,0),(139.3,-33),(140.5,0),(141.6,30),(142.6,0),(143.7,-26),(144.7,0),(145.8,24),(146.9,0),(147.9,-23),(149.0,0),(150.0,24)]

P1_1_M_EW = [(50.0,0),(50.6,-1),(51.2,2),(51.8,-1),(52.4,1),(53.0,-1),(53.6,2),(54.2,-1),(54.8,1),(55.4,-2),(56.0,2),(56.6,-1),(57.2,2),(57.8,-2),(58.4,1),(59.0,-1),(59.6,3),(60.2,-1),(60.8,2),(61.4,-2),(62.0,2),(62.6,-1),(63.2,1),(63.8,-2),(64.4,1),(65.0,-1),(65.6,3),(66.2,2),(66.8,1),(67.4,-1),(68.0,2),(68.6,3),(69.2,1),(69.8,-2),(70.4,1),(71.0,-1),(71.6,-3),(72.2,-1),(72.8,-3),(73.4,1),(74.0,2),(74.6,1),(75.2,2),(75.8,-1),(76.4,-4),(77.0,-1),(77.6,3),(78.2,1),(78.8,4),(79.4,-1),(80.0,-2),(80.6,-1),(81.2,1),(81.8,-1),(82.6,7),(83.2,0),(83.8,-2),(84.4,1),(85.0,-2),(85.6,-1),(86.2,2),(86.8,-1),(87.4,-2),(88.0,1),(88.6,3),(89.2,1),(89.8,-2),(90.4,-3),(91.0,-1),(91.6,2),(92.2,4),(92.8,2),(93.4,-1),(94.4,-5),(95.0,-2),(95.6,1),(96.2,3),(96.8,1),(97.4,-2),(98.0,-2),(98.6,1),(99.2,4),(99.8,1),(100.4,-1),(101.0,-2),(101.6,1),(102.2,3),(102.8,0),(103.4,-2),(104.0,-1),(104.6,1),(105.2,2),(105.8,-1),(106.4,-2),(107.0,0),(107.6,2),(108.2,1),(108.8,-1),(109.4,0),(110.0,1),(110.6,-1),(111.2,0),(111.8,2),(112.4,1),(113.0,-1),(113.6,-2),(114.2,0),(114.8,2),(115.4,1),(116.0,-1),(116.6,-3),(117.2,-1),(117.8,2),(118.4,3),(119.0,1),(119.6,-2),(120.2,-4),(120.8,-1),(121.4,3),(122.0,2),(122.6,-1),(123.2,-2),(123.8,-3),(124.4,0),(125.0,3),(125.6,4),(126.2,1),(126.8,-2),(127.4,-3),(128.4,-5),(129.2,-1),(129.8,4),(130.5,6),(131.2,2),(131.8,-2),(132.7,-4),(133.4,-3),(134.0,0),(134.6,2),(135.2,3),(135.8,2),(136.9,5),(137.6,2),(138.2,-1),(138.8,-3),(139.5,-3),(140.2,0),(140.8,4),(141.2,5),(141.8,3),(142.4,0),(143.0,-2),(143.6,-3),(144.3,-1),(144.9,1),(145.5,1),(146.2,2),(146.8,2),(147.4,1),(148.0,1),(148.6,3),(149.3,1),(150.0,-1)]

P4_1_M_EW = [(50.0,0),(50.5,-1),(51.0,1),(51.5,0),(52.0,1),(52.5,-1),(53.0,1),(53.5,0),(54.0,1),(54.5,-1),(55.0,1),(55.5,-1),(56.0,1),(56.5,0),(57.0,-1),(57.5,1),(58.0,0),(58.5,2),(59.0,-1),(59.5,1),(60.0,-1),(60.5,2),(61.0,0),(61.5,-1),(62.0,1),(62.5,2),(63.0,1),(63.5,-1),(64.0,-2),(64.5,0),(65.0,1),(65.5,2),(66.0,3),(66.5,1),(67.0,-1),(67.5,-2),(68.0,0),(68.5,1),(69.0,3),(69.5,1),(70.0,-1),(70.5,-2),(71.0,-1),(71.5,-1),(72.0,1),(72.5,-2),(73.2,-3),(73.8,1),(74.4,2),(75.0,1),(75.6,2),(76.2,-1),(76.8,-2),(77.4,1),(78.0,1),(78.6,0),(79.2,-2),(79.8,-1),(80.4,1),(81.0,1),(81.6,0),(82.2,1),(82.8,-1),(83.4,0),(84.0,1),(84.6,-1),(85.2,0),(85.8,1),(86.4,0),(87.0,-1),(87.6,1),(88.2,0),(88.8,-1),(89.4,1),(90.0,0),(90.6,-1),(91.2,1),(91.8,0),(92.4,1),(93.0,-1),(93.6,0),(94.2,1),(94.8,-1),(95.4,0),(96.0,1),(96.6,-1),(97.2,0),(97.8,1),(98.4,-1),(99.0,0),(99.6,1),(100.2,-1),(100.8,0),(101.4,1),(102.0,0),(102.6,-1),(103.2,1),(103.8,0),(104.4,1),(105.0,-1),(105.6,0),(106.2,1),(106.8,0),(107.4,-1),(108.0,1),(108.6,0),(109.2,-1),(109.8,0),(110.4,1),(111.0,2),(111.6,1),(112.2,0),(112.8,-1),(113.4,-2),(114.0,-1),(114.6,1),(115.2,1),(115.8,0),(116.4,1),(117.0,0),(117.6,-1),(118.2,-2),(118.8,-1),(119.4,0),(120.0,1),(120.6,1),(121.2,0),(121.8,-1),(122.4,-1),(123.0,1),(123.6,2),(124.2,1),(124.8,-1),(125.4,-1),(126.0,0),(126.6,1),(127.2,1),(127.8,0),(128.4,1),(129.0,-1),(129.6,-1),(130.2,0),(130.8,-1),(131.4,0),(132.0,1),(132.6,1),(133.2,0),(133.8,-1),(134.4,-2),(135.0,-1),(135.6,1),(136.2,1),(136.8,0),(137.4,-1),(138.0,0),(138.6,1),(139.2,1),(139.8,0),(140.4,-1),(141.0,0),(141.6,1),(142.2,-1),(142.8,-1),(143.4,0),(144.0,1),(144.6,0),(145.2,-1),(145.8,1),(146.4,2),(147.0,1),(147.6,0),(148.2,1),(148.8,1),(149.4,0),(150.0,0)]

P1_1_M_NS = [(50.0,0),(50.4,2),(50.8,-1),(51.2,1),(51.6,-1),(52.0,2),(52.4,0),(52.8,-1),(53.2,1),(53.6,3),(54.0,1),(54.4,-1),(54.8,2),(55.2,-1),(55.6,3),(56.0,0),(56.4,2),(56.8,-2),(57.2,1),(57.6,2),(58.0,-1),(58.4,2),(58.8,0),(59.2,2),(59.6,-1),(60.0,1),(60.4,2),(60.8,0),(61.2,1),(61.6,-1),(62.0,1),(62.4,3),(62.8,0),(63.2,-1),(63.6,2),(64.0,6),(64.4,1),(64.8,-5),(65.2,2),(65.5,4),(65.9,7),(66.3,0),(66.7,-5),(67.1,-3),(67.7,-5),(68.2,-3),(68.7,0),(69.3,6),(69.9,5),(70.4,-2),(71.0,-8),(71.6,-4),(72.1,-6),(72.6,-1),(73.1,4),(73.5,6),(74.0,5),(74.6,-1),(75.3,-6),(76.0,-10),(76.7,-3),(77.3,3),(77.8,7),(78.4,4),(79.0,-1),(79.6,-4),(80.3,-6),(80.9,-4),(81.6,1),(82.4,7),(83.2,2),(83.9,-4),(84.6,-9),(85.3,-3),(86.0,-1),(86.6,3),(87.2,1),(87.8,-1),(88.4,-2),(89.0,0),(89.6,2),(90.2,4),(90.8,2),(91.5,0),(92.3,-2),(93.0,0),(93.6,1),(94.1,2),(94.8,0),(95.4,1),(95.8,-1),(96.4,0),(97.0,1),(97.6,0),(98.2,-1),(98.8,1),(99.4,0),(100.0,-1),(100.6,1),(101.2,0),(101.8,1),(102.4,-1),(103.0,1),(103.6,3),(104.3,6),(104.9,2),(105.6,-2),(106.5,-4),(107.2,1),(107.9,3),(108.5,2),(109.0,2),(109.8,-2),(110.4,-4),(111.1,-7),(111.8,-2),(112.5,3),(113.2,7),(113.9,3),(114.6,-3),(115.3,-8),(116.0,-3),(116.7,3),(117.4,7),(118.1,3),(118.8,-3),(119.6,-8),(120.3,-3),(121.0,3),(121.7,7),(122.4,3),(123.1,-3),(123.8,-8),(124.6,-3),(125.4,3),(126.1,7),(126.9,3),(127.6,-4),(128.1,-9),(128.9,-4),(129.5,3),(130.2,8),(131.0,4),(131.7,-3),(132.5,-9),(133.3,-3),(134.0,3),(134.8,8),(135.6,3),(136.3,-3),(137.0,-7),(137.7,-2),(138.5,2),(139.3,5),(140.0,4),(140.7,-1),(141.4,-5),(142.1,-4),(142.9,1),(143.7,4),(144.4,3),(145.1,-2),(145.8,-6),(146.6,-2),(147.4,2),(148.3,3),(149.0,2),(149.5,-1),(150.0,-6)]

D8_TOFT = [(50.0,0),(51.0,0.3),(52.0,-0.3),(53.0,0.2),(54.0,-0.2),(54.6,0.6),(55.3,-0.3),(56.0,0.2),(56.7,-0.5),(57.4,0.1),(58.1,0.6),(58.8,-0.4),(59.5,0.3),(60.2,-0.2),(61.0,0.4),(61.7,-0.3),(62.4,0.2),(63.2,-0.5),(64.0,0.3),(64.8,-0.4),(65.5,0.9),(66.3,0.2),(67.0,-1.5),(67.8,-0.3),(68.4,1),(69.3,2),(70.3,0),(71.4,-2.5),(72.4,0),(73.5,3.5),(74.7,0),(76.0,-3.7),(77.0,0),(78.1,4),(79.2,0),(80.3,-4),(81.3,0),(82.4,3.5),(83.6,0),(84.9,-3),(86.0,0),(87.0,2.5),(88.0,0),(89.1,-2.5),(90.1,0),(91.2,2),(92.3,0),(93.4,-2),(94.4,0),(95.5,2),(96.5,0),(97.6,-2),(98.6,0),(99.7,1.7),(100.8,0),(101.9,-1.7),(102.9,0),(104.0,1.3),(105.0,0),(106.1,-2),(107.1,0),(108.2,2.2),(109.4,0),(110.7,-3),(111.7,0),(112.8,3.5),(113.9,0),(115.0,-4),(116.0,0),(117.1,4),(118.1,0),(119.2,-4.5),(120.2,0),(121.3,4),(122.4,0),(123.5,-4.5),(124.7,0),(125.9,4.3),(127.0,0),(128.0,-4.5),(129.0,0),(130.1,4.3),(131.2,0),(132.4,-4.3),(133.5,0),(134.6,4.3),(135.7,0),(136.8,-4),(138.0,0),(139.2,4),(140.3,0),(141.4,-3.7),(142.5,0),(143.6,3.4),(144.8,0),(146.0,-3),(147.1,0),(148.3,2.8),(149.3,0),(150.0,-2.5)]

D13_TOFT = [(50.0,0),(51,0.2),(52,-0.3),(53,0.2),(54,0),(55,-0.3),(56,0.2),(57,-0.2),(58,0.3),(59,0),(60,-0.2),(61,0.2),(62,0),(63,-0.2),(64,0.2),(65,0),(66,-0.2),(67,0.4),(68,0.2),(69,0.6),(70,0.2),(71,-0.2),(72,0.3),(73,-0.5),(74,-0.7),(75,0.2),(76,0.6),(77,0.1),(78,-0.4),(79,-0.2),(80,0.3),(81,0.2),(82,-0.3),(83,-0.1),(84,0.2),(85,0),(86,-0.2),(87,0.1),(88,0.2),(89,-0.2),(90,0),(91,0.2),(92,-0.1),(93,-0.2),(94,0.1),(95,0.2),(96,-0.1),(97,-0.2),(98,0.1),(99,0.2),(100,0),(101,-0.2),(102,0.1),(103,0.2),(104,-0.1),(105,-0.2),(106,0.2),(107,0.3),(108,0),(109,-0.3),(110,-0.2),(111,0.2),(112,0.5),(113,0.1),(114,-0.4),(115,-0.3),(116,0.2),(117,0.4),(118,0),(119,-0.4),(120,-0.8),(121,-0.2),(122,0.4),(123,0.6),(124,0.1),(125,-0.5),(126,-0.3),(127,0.3),(128,0.7),(129,0.1),(130,-0.5),(131,-0.4),(132,0.2),(133,0.5),(134,0),(135,-0.6),(136,-0.3),(137,0.3),(138,0.5),(139,0),(140,-0.5),(141,-0.6),(142,0),(143,0.4),(144,0.5),(145,0),(146,-0.5),(147,-0.3),(148,0.3),(149,0.2),(150,0.2)]

# panel y half-ranges and series (panel, legend name, data, colour, line shape), in drawing order
Y_HALF = [80, 20, 20, 20, 20, 40, 60, 20, 20, 10]
BLACK, RED, GREEN = '#000000', '#ff0000', '#00b050'
SERIES = [
    (1, 'WT-36F-NS', WT36F_NS, BLACK, 'spline'),
    (1, 'WT-36F-EW', WT36F_EW, RED, 'spline'),
    (2, 'GL-1.5m-EW', GL_EW, RED, 'linear'),
    (2, 'WT-B2F-EW', B2F_EW, BLACK, 'spline'),
    (3, 'GL-1.5m-NS', GL_NS, RED, 'linear'),
    (3, 'WT-B2F-NS', B2F_NS, BLACK, 'spline'),
    (4, 'Superstructure+Foundation (NS)', SF_NS, BLACK, 'spline'),
    (4, 'Foundation (NS)', F_NS, RED, 'spline'),
    (5, 'Superstructure+Foundation (EW)', SF_EW, BLACK, 'spline'),
    (5, 'Foundation (EW)', F_EW, RED, 'spline'),
    (6, 'P1-1(e_N)', P1_1_N, BLACK, 'spline'),
    (6, 'P1-2(e_N)', P1_2_N, RED, 'spline'),
    (6, 'P1-3(e_N)', P1_3_N, GREEN, 'spline'),
    (7, 'P4-1(e_N)', P4_1_N, BLACK, 'spline'),
    (8, 'P1-1(e_M(EW))', P1_1_M_EW, BLACK, 'linear'),
    (8, 'P4-1(e_M(EW))', P4_1_M_EW, RED, 'linear'),
    (9, 'P1-1(e_M(NS))', P1_1_M_NS, BLACK, 'spline'),
    (10, 'D8（TOFT）', D8_TOFT, BLACK, 'spline'),
    (10, 'D13（TOFT）', D13_TOFT, RED, 'spline'),
]
LEGEND_ORDER = {1: ['WT-36F-NS', 'WT-36F-EW'], 2: ['GL-1.5m-EW', 'WT-B2F-EW'], 3: ['GL-1.5m-NS', 'WT-B2F-NS'],
                4: ['Superstructure+Foundation (NS)', 'Foundation (NS)'], 5: ['Superstructure+Foundation (EW)', 'Foundation (EW)'],
                6: ['P1-1(e_N)', 'P1-2(e_N)', 'P1-3(e_N)'], 7: ['P4-1(e_N)'], 8: ['P1-1(e_M(EW))', 'P4-1(e_M(EW))'],
                9: ['P1-1(e_M(NS))'], 10: ['D8（TOFT）', 'D13（TOFT）']}

# ---------------- layout geometry (pixels) ----------------
W, H = 1040, 908
ML, MR, MT, MB = 83, 17, 41, 46
PW, PH = W - ML - MR, H - MT - MB
def px_x(p): return (p - ML) / PW
def px_y(p): return (H - MB - p) / PH

PANEL_PX = [(41, 102), (121, 184), (202, 263), (289, 359), (380, 449),
            (469, 532), (549, 613), (639, 702), (720, 783), (799, 862)]
LEGEND_PX = {1: (720, 1012, 24, 46, [796, 931]), 2: (686, 1010, 108, 130, [778, 917]),
             3: (687, 1011, 188, 210, [778, 917]), 4: (518, 1012, 272, 292, [680, 911]),
             5: (502, 1012, 361, 381, [668, 904]), 6: (616, 1010, 456, 478, [700, 821, 940]),
             7: (854, 1010, 537, 558, [934]), 8: (618, 1010, 628, 650, [722, 903]),
             9: (821, 1010, 707, 728, [912]), 10: (676, 1010, 787, 808, [774, 922])}

SERIF = 'Liberation Serif'
SANS = 'Liberation Sans'

fig = go.Figure()
for panel, name, data, color, shape in SERIES:
    sfx = '' if panel == 1 else str(panel)
    line = dict(color=color, width=1, shape=shape)
    if shape == 'spline':
        line['smoothing'] = 0.8
    fig.add_trace(go.Scatter(
        x=[p[0] for p in data], y=[p[1] for p in data], mode='lines', name=name,
        line=line, xaxis='x' + sfx, yaxis='y' + sfx, showlegend=False, hoverinfo='skip'))

layout = dict(width=W, height=H, margin=dict(l=ML, r=MR, t=MT, b=MB, autoexpand=False),
              paper_bgcolor='white', plot_bgcolor='white', showlegend=False,
              font=dict(family=SERIF, color='black'))
for i in range(1, 11):
    sfx = '' if i == 1 else str(i)
    top, bot = PANEL_PX[i - 1]
    r = Y_HALF[i - 1]
    last = (i == 10)
    xa = dict(domain=[0, 1], range=[50, 150], anchor='y' + sfx, showline=True, mirror=True,
              linecolor='#404040', linewidth=2, showgrid=False, zeroline=False, automargin=False,
              tickmode='array', tickvals=X_TICKS, showticklabels=last, ticks='outside' if last else '',
              ticklen=4, tickcolor='#404040', ticklabeloverflow='allow',
              tickfont=dict(family=SERIF, size=16, color='black'))
    if i > 1:
        xa['matches'] = 'x'
    ya = dict(domain=[px_y(bot), px_y(top)], range=[-r, r], anchor='x' + sfx, automargin=False,
              tickmode='array', tickvals=[-r, 0, r],
              showgrid=False, zeroline=True, zerolinecolor='#a6a6a6', zerolinewidth=2,
              minor=dict(tickmode='array', tickvals=[-r / 2, r / 2], showgrid=True, gridcolor='#bfbfbf',
                         gridwidth=1, ticks='outside', ticklen=5, tickcolor='black'),
              showline=True, mirror=True, linecolor='black', linewidth=1,
              ticks='outside', ticklen=5, tickcolor='black',
              tickfont=dict(family=SERIF, size=16, color='black'))
    layout['xaxis' + sfx] = xa
    layout['yaxis' + sfx] = ya

shapes, annotations = [], []
color_of = {name: color for _, name, _, color, _ in SERIES}
for panel, (lft, rgt, top, bot, centres) in LEGEND_PX.items():
    shapes.append(dict(type='rect', xref='paper', yref='paper', x0=px_x(lft), x1=px_x(rgt),
                       y0=px_y(bot), y1=px_y(top), line=dict(color='black', width=1),
                       fillcolor='white', layer='above'))
    for name, cx in zip(LEGEND_ORDER[panel], centres):
        annotations.append(dict(xref='paper', yref='paper', x=px_x(cx), y=px_y((top + bot) / 2),
                                text=f'<span style="color:{color_of[name]}">–</span>{name}',
                                showarrow=False, xanchor='center', yanchor='middle',
                                font=dict(family=SERIF, size=16, color='black')))

# Time A marker line
shapes.append(dict(type='line', xref='x', yref='paper', x0=TIME_A, x1=TIME_A,
                   y0=px_y(868), y1=px_y(8), line=dict(color='#4f81bd', width=1), layer='above'))
annotations.append(dict(xref='x', yref='paper', x=TIME_A, y=px_y(15), text='TimeA', showarrow=False,
                        xanchor='left', yanchor='middle', xshift=1, font=dict(family=SANS, size=14)))

# group axis titles: (title, centre y, size, unit, unit centre y)
GROUP_TITLES = [('Acceleration', 150, 22, '(cm/s<sup>2</sup>)', 150),
                ('Inertial Force', 358, 22, '(MN)', 357),
                ('Axial strain', 541, 22, '(μ)', 541),
                ('Bending strain', 714, 21, '(μ)', 713),
                ('Earth pressure', 840, 19, '(kPa)', 832)]
for main, my, size, unit, uy in GROUP_TITLES:
    annotations.append(dict(xref='paper', yref='paper', x=px_x(18), y=px_y(my), text=main,
                            textangle=-90, showarrow=False, xanchor='center', yanchor='middle',
                            font=dict(family=SERIF, size=size)))
    annotations.append(dict(xref='paper', yref='paper', x=px_x(41), y=px_y(uy), text=unit,
                            textangle=-90, showarrow=False, xanchor='center', yanchor='middle',
                            font=dict(family=SERIF, size=16)))

for txt, py in [('Ten.', 479), ('Comp.', 525), ('Ten.', 558), ('Comp.', 604), ('Comp.', 808), ('Ten.', 854)]:
    annotations.append(dict(xref='paper', yref='paper', x=px_x(87), y=px_y(py), text=txt,
                            showarrow=False, xanchor='left', yanchor='middle',
                            font=dict(family=SANS, size=11)))

annotations.append(dict(xref='paper', yref='paper', x=px_x(540), y=px_y(897), text='Time (sec.)',
                        showarrow=False, xanchor='center', yanchor='middle', font=dict(family=SERIF, size=13)))

layout['shapes'] = shapes
layout['annotations'] = annotations
fig.update_layout(**layout)
fig.write_html('out.html')
